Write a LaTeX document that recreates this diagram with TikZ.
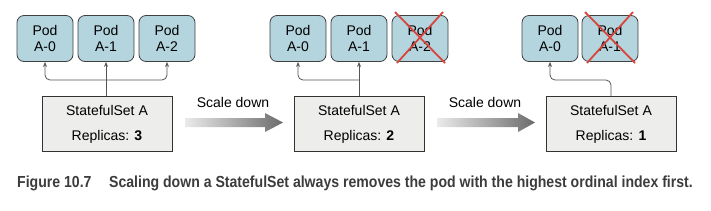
\documentclass[tikz,border=0pt]{standalone}
\usepackage{fontspec}
\setmainfont{Liberation Sans}
\newfontfamily\capfont[FakeStretch=0.88]{Liberation Sans}
\usetikzlibrary{arrows.meta}
\definecolor{podblue}{HTML}{B4D5DE}
\definecolor{boxgray}{HTML}{EDEDEB}
\definecolor{linegray}{HTML}{555555}
\definecolor{crossred}{HTML}{D8453B}
\definecolor{capgray}{HTML}{3C3C3C}

\begin{document}
\begin{tikzpicture}[x=1pt,y=-1pt,
    every node/.style={font=\fontsize{14}{16}\selectfont, inner sep=0pt},
    pod/.style={draw=black!75, fill=podblue, rounded corners=7pt, minimum width=56pt, minimum height=46pt, align=center, line width=0.8pt},
    setbox/.style={draw=black!80, fill=boxgray, minimum width=130pt, minimum height=55pt, align=center, line width=0.8pt},
    link/.style={draw=linegray, line width=0.8pt, rounded corners=5pt, -{Stealth[length=5pt,width=4pt]}},
    fatarrow/.style={left color=black!8, right color=black!58},
    cross/.style={draw=crossred, line width=1.8pt}]
    \path[use as bounding box] (0,0) rectangle (711,210);

    % replicas: 3
    \node[pod] (pod30) at (45,38.5) {Pod\\A-0};
    \node[pod] (pod31) at (106,38.5) {Pod\\A-1};
    \node[pod] (pod32) at (167,38.5) {Pod\\A-2};
    \node[setbox, anchor=north] (set3) at (107,96) {StatefulSet A\\[9pt]Replicas: \textbf{3}};
    \coordinate (j3) at (pod31.south |- 0,80);
    \draw[link] (set3.north -| pod31.south) -- (pod31.south);
    \draw[link] (j3) -| (pod30.south);
    \draw[link] (j3) -| (pod32.south);

    % scale down
    \shade[fatarrow] (185,118) -- (265,118) -- (265,113) -- (283,122.5) -- (265,132) -- (265,127) -- (185,127) -- cycle;
    \node (lbl1) at (233,102) {Scale down};

    % replicas: 2
    \node[pod] (pod20) at (298,38.5) {Pod\\A-0};
    \node[pod] (pod21) at (359,38.5) {Pod\\A-1};
    \node[pod] (pod22) at (420,38.5) {Pod\\A-2};
    \draw[cross] ([shift={(-25,-26.5)}]pod22.center) -- ([shift={(25,24.5)}]pod22.center);
    \draw[cross] ([shift={(23,-26.5)}]pod22.center) -- ([shift={(-23,24.5)}]pod22.center);
    \node[setbox, anchor=north] (set2) at (359,96) {StatefulSet A\\[9pt]Replicas: \textbf{2}};
    \coordinate (j2) at (pod21.south |- 0,80);
    \draw[link] (set2.north) -- (pod21.south);
    \draw[link] (j2) -| (pod20.south);

    % scale down
    \shade[fatarrow] (437,118) -- (518,118) -- (518,113) -- (535,122.5) -- (518,132) -- (518,127) -- (437,127) -- cycle;
    \node (lbl2) at (485,102) {Scale down};

    % replicas: 1
    \node[pod] (pod10) at (550,38.5) {Pod\\A-0};
    \node[pod] (pod11) at (610,38.5) {Pod\\A-1};
    \draw[cross] ([shift={(-25,-26.5)}]pod11.center) -- ([shift={(25,24.5)}]pod11.center);
    \draw[cross] ([shift={(23,-26.5)}]pod11.center) -- ([shift={(-23,24.5)}]pod11.center);
    \node[setbox, anchor=north] (set1) at (611,96) {StatefulSet A\\[9pt]Replicas: \textbf{1}};
    \draw[link] (set1.north) -- (set1.north |- 0,80) -| (pod10.south);

    % caption
    \node[anchor=west, text=capgray, font=\capfont\bfseries\fontsize{16}{18}\selectfont] (caption) at (17,183)
        {Figure 10.7\hspace{1.1em}Scaling down a StatefulSet always removes the pod with the highest ordinal index first.};
\end{tikzpicture}
\end{document}
